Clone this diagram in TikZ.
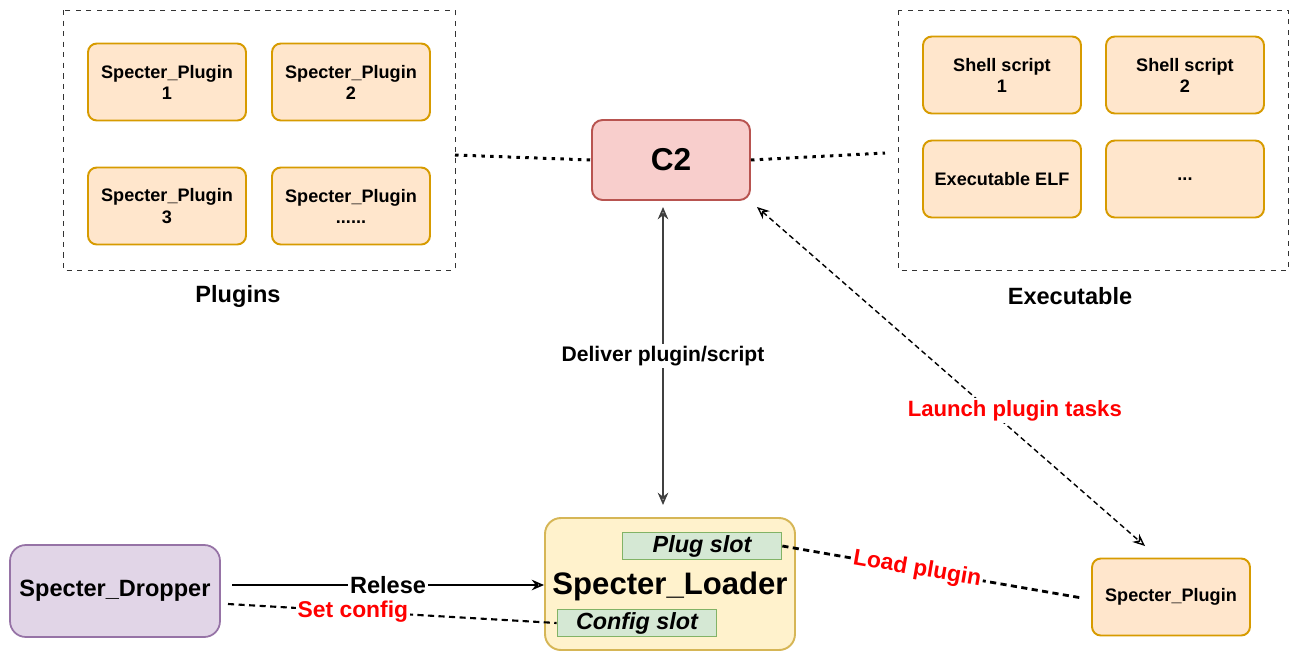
\documentclass[tikz,border=0pt]{standalone}
\usepackage{fontspec}
\setmainfont{Liberation Sans}
\usetikzlibrary{arrows.meta}
\definecolor{plugfill}{HTML}{FFE6CC}
\definecolor{plugline}{HTML}{D79B00}
\definecolor{ctwofill}{HTML}{F8CECC}
\definecolor{ctwoline}{HTML}{B85450}
\definecolor{loadfill}{HTML}{FFF2CC}
\definecolor{loadline}{HTML}{D6B656}
\definecolor{slotfill}{HTML}{D5E8D4}
\definecolor{slotline}{HTML}{82B366}
\definecolor{dropfill}{HTML}{E1D5E7}
\definecolor{dropline}{HTML}{9673A6}
\definecolor{redtext}{HTML}{FF0000}
\tikzset{
  plugbox/.style={draw=plugline,fill=plugfill,line width=1.1pt,rounded corners=5pt,
    minimum width=3.16cm,minimum height=1.54cm,align=center,font=\fontsize{10.3}{12}\selectfont\bfseries},
  slotbox/.style={draw=slotline,fill=slotfill,line width=1pt,minimum width=3.18cm,
    minimum height=0.54cm,inner sep=0pt,font=\fontsize{13.3}{14}\selectfont\bfseries\itshape},
  groupbox/.style={draw=black!80,dashed,line width=0.5pt},
  dotline/.style={line width=1.7pt,dash pattern=on 2pt off 3pt},
  redlabel/.style={text=redtext,font=\fontsize{13}{14}\selectfont\bfseries,fill=white,inner sep=1pt},
  blacklabel/.style={text=black,font=\fontsize{12}{14}\selectfont\bfseries,fill=white,inner sep=1pt},
  openhead/.style={-{Stealth[open,length=7pt,width=6pt]}}
}
\begin{document}
\begin{tikzpicture}[x=0.02cm,y=-0.02cm]
\useasboundingbox (0,0) rectangle (1289,650);
% plugins group
\draw[groupbox] (63,10) rectangle (455,270);
\node[font=\fontsize{13.4}{14}\selectfont\bfseries] (pluginstitle) at (238,296) {Plugins};
\node[plugbox] (plugone) at (167,82) {Specter\_Plugin\\1};
\node[plugbox] (plugtwo) at (351,82) {Specter\_Plugin\\2};
\node[plugbox] (plugthree) at (167,206) {Specter\_Plugin\\3};
\node[plugbox] (plugmore) at (351,206) {Specter\_Plugin\\......};
% executable group
\draw[groupbox] (898,10) rectangle (1288.5,270);
\node[font=\fontsize{13.4}{14}\selectfont\bfseries] (exectitle) at (1070,296) {Executable};
\node[plugbox] (shellone) at (1002,75) {Shell script\\1};
\node[plugbox] (shelltwo) at (1185,75) {Shell script\\2};
\node[plugbox] (elf) at (1002,179) {Executable ELF};
\node[plugbox] (execmore) at (1185,179) {...};
% c2
\node[draw=ctwoline,fill=ctwofill,line width=1.1pt,rounded corners=6pt,minimum width=3.16cm,
  minimum height=1.6cm,font=\fontsize{18}{20}\selectfont\bfseries] (ctwo) at (671,160) {C2};
\coordinate (plugedge) at (455,155);
\coordinate (execedge) at (885,153);
\draw[dotline] (plugedge) -- (ctwo.west);
\draw[dotline] (ctwo.east) -- (execedge);
% loader
\node[draw=loadline,fill=loadfill,line width=1.1pt,rounded corners=9pt,minimum width=5cm,
  minimum height=2.64cm] (loader) at (670,584) {};
\node[font=\fontsize{17.7}{20}\selectfont\bfseries] (loadername) at (670,586) {Specter\_Loader};
\node[slotbox] (plugslot) at (702,546) {Plug slot};
\node[slotbox] (configslot) at (637,623) {Config slot};
% dropper
\node[draw=dropline,fill=dropfill,line width=1pt,rounded corners=9pt,minimum width=4.2cm,
  minimum height=1.84cm,font=\fontsize{13.4}{15}\selectfont\bfseries] (dropper) at (115,591) {Specter\_Dropper};
% loaded plugin
\node[plugbox] (loadedplug) at (1171,597) {Specter\_Plugin};
% connectors
\draw[line width=1pt,black!75,{Stealth[open,length=7pt,width=6pt]}-{Stealth[open,length=7pt,width=6pt]}]
  (663,207) -- node[blacklabel] (delivertext) {Deliver plugin/script} (663,505);
\draw[line width=1pt,openhead] (232,585) -- node[blacklabel,font=\fontsize{13.4}{15}\selectfont\bfseries,pos=0.5] (relesetext) {Relese} (loader.west |- 0,585);
\draw[line width=1.2pt,dash pattern=on 3.5pt off 2.5pt] (228,604) -- node[redlabel,pos=0.38] (settext) {Set config} (configslot.west);
\draw[line width=1.6pt,dash pattern=on 3.5pt off 2.5pt] (plugslot.east) -- node[redlabel,sloped,pos=0.45] (loadtext) {Load plugin} (1082,598);
\draw[line width=0.8pt,dash pattern=on 3pt off 2pt,{Stealth[open,length=7pt,width=6pt]}-{Stealth[open,length=7pt,width=6pt]}]
  (757,207) -- node[redlabel,font=\fontsize{12.6}{14}\selectfont\bfseries,pos=0.6,xshift=0.5cm] (launchtext) {Launch plugin tasks} (1145,546);
\end{tikzpicture}
\end{document}
